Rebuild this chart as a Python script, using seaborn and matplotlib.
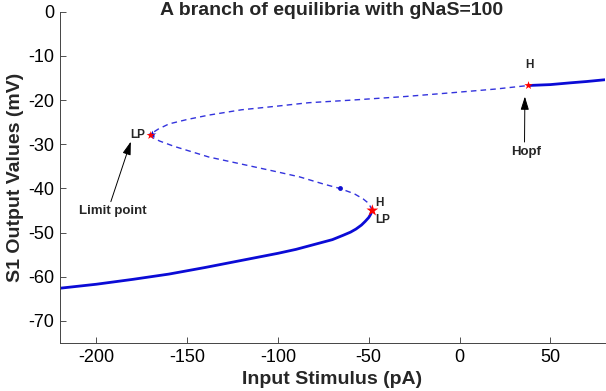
import numpy as np
import pandas as pd
import matplotlib
matplotlib.use('Agg')
import matplotlib.pyplot as plt
import seaborn as sns

# branch of equilibria (stimulus in pA, S1 in mV)
stable_low_x = [-220, -200, -180, -160, -140, -120, -100, -90, -80, -70, -64, -60, -57, -54, -52, -50, -49, -48]
stable_low_y = [-62.6, -61.7, -60.6, -59.4, -57.9, -56.3, -54.7, -53.8, -52.7, -51.6, -50.6, -49.9, -49.2, -48.3,
                -47.5, -46.6, -45.9, -45.0]

unstable_x = [-48, -50, -53, -58, -66, -75, -88, -101, -120, -138, -157, -165, -169, -170,
              -169, -166, -160, -150, -138, -120, -101, -83, -59, -30, -3, 20, 38]
unstable_y = [-45.0, -43.4, -42.4, -41.2, -40.0, -39.0, -37.4, -36.2, -34.5, -32.9, -30.5, -29.3, -28.5, -28.0,
              -27.4, -26.6, -25.4, -24.4, -23.4, -22.2, -21.4, -20.6, -20.0, -19.2, -18.3, -17.5, -16.7]

stable_high_x = [38, 50, 61, 70, 80]
stable_high_y = [-16.7, -16.5, -16.1, -15.8, -15.4]

# special points found by the continuation
special_x = [-170, -48, 38]
special_y = [-28.0, -45.0, -16.7]

sns.set_style('ticks')
plt.rcParams['font.family'] = ['Liberation Sans', 'DejaVu Sans']
plt.rcParams['axes.unicode_minus'] = False

fig = plt.figure(figsize=(6.06, 3.91), dpi=100)
ax = fig.add_axes([0.099, 0.1228, 0.899, 0.8472])

sns.lineplot(x=stable_low_x, y=stable_low_y, sort=False, estimator=None, color='#0b0bd6', lw=2, ax=ax)
sns.lineplot(x=unstable_x, y=unstable_y, sort=False, estimator=None, color='#3333dd', lw=1, ax=ax)
ax.lines[-1].set_dashes([4, 3])
sns.lineplot(x=stable_high_x, y=stable_high_y, sort=False, estimator=None, color='#0b0bd6', lw=2, ax=ax)

# blue markers along the branch
ax.plot([-66], [-40.0], 'o', color='#1010d0', ms=3.5, mec='none')
ax.plot([-169.5], [-27.7], '*', color='#1010d0', ms=6, mec='none')
sns.scatterplot(x=special_x, y=special_y, marker='*', color='red', s=[40, 80, 40], edgecolor='none', ax=ax, zorder=5)

# labels of special points
ax.text(-173, -28.0, 'LP', ha='right', va='center', fontsize=8.5, fontweight='bold')
ax.text(-46.5, -43.3, 'H', ha='left', va='center', fontsize=8.5, fontweight='bold')
ax.text(-46.5, -47.2, 'LP', ha='left', va='center', fontsize=8.5, fontweight='bold')
ax.text(38.7, -12.1, 'H', ha='center', va='center', fontsize=8.5, fontweight='bold')

arrow = dict(arrowstyle='-|>,head_length=0.8,head_width=0.25', color='black', lw=0.7, shrinkA=0, shrinkB=0)
ax.text(-191, -45.2, 'Limit point', ha='center', va='center', fontsize=9.5, fontweight='bold')
ax.annotate('', xy=(-181, -29.4), xytext=(-192, -43.0), arrowprops=arrow)
ax.text(36.5, -31.7, 'Hopf', ha='center', va='center', fontsize=9.5, fontweight='bold')
ax.annotate('', xy=(36.0, -19.2), xytext=(35.8, -29.5), arrowprops=arrow)

ax.set_xlim(-220, 80)
ax.set_ylim(-75, 0)
ax.set_xticks([-200, -150, -100, -50, 0, 50])
ax.set_yticks([0, -10, -20, -30, -40, -50, -60, -70])
ax.tick_params(direction='in', length=4, width=0.6, colors='#333333', labelsize=13, labelcolor='black', pad=4)
for s in ['top', 'right']:
    ax.spines[s].set_visible(False)
for s in ['left', 'bottom']:
    ax.spines[s].set_linewidth(0.7)
    ax.spines[s].set_color('#444444')

ax.set_xlabel('Input Stimulus (pA)', fontsize=14, fontweight='bold', labelpad=4)
ax.set_ylabel('S1 Output Values (mV)', fontsize=14, fontweight='bold', labelpad=3)
fig.text(0.5475, 1 - 15 / 391, 'A branch of equilibria with gNaS=100', ha='center', va='baseline',
         fontsize=14, fontweight='bold')

fig.savefig('out.png', dpi=100)
